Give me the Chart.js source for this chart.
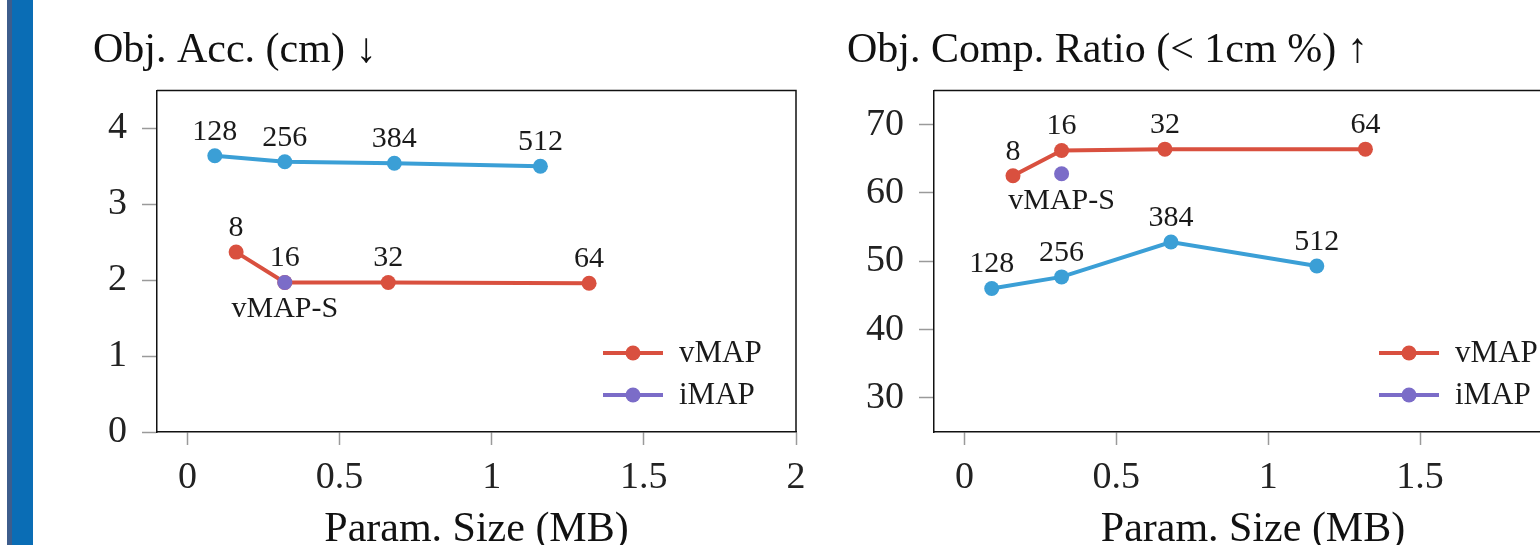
<!DOCTYPE html>
<html>
<head>
<meta charset="utf-8">
<script src="https://cdn.jsdelivr.net/npm/chart.js@4.4.1/dist/chart.umd.min.js"></script>
<style>
  html, body { margin: 0; padding: 0; background: #fff; width: 1540px; height: 545px; overflow: hidden; position: relative; }
  #bar { position: absolute; left: 7px; top: 0; width: 26px; height: 545px; background: #0a6db5; border-left: 5px solid #3d5d8c; box-sizing: border-box; }
  .wrap { position: absolute; top: 0; height: 545px; }
  #w1 { left: 0; width: 820px; }
  #w2 { left: 820px; width: 786px; }
</style>
</head>
<body>
<div id="bar"></div>
<div class="wrap" id="w1"><canvas id="c1" width="820" height="545"></canvas></div>
<div class="wrap" id="w2"><canvas id="c2" width="786" height="545"></canvas></div>
<script>
// ---- data ----
const vmapSizes = [0.16, 0.32, 0.66, 1.32];          // Param. Size (MB)
const vmapLabels = ['8', '16', '32', '64'];
const hiddenSizes = [0.09, 0.32, 0.68, 1.16];
const hiddenLabels = ['128', '256', '384', '512'];
const imapSize = [0.32];
const imapLabels = ['vMAP-S'];

const accVmap = [2.37, 1.97, 1.97, 1.96];
const accHidden = [3.64, 3.56, 3.54, 3.50];
const accImap = [1.97];

const compVmap = [62.5, 66.2, 66.4, 66.4];
const compHidden = [46.0, 47.7, 52.8, 49.3];
const compImap = [62.8];

const sizeTicks = [0, 0.5, 1, 1.5, 2];
const sizeTickLabels = ['0', '0.5', '1', '1.5', '2'];
const accTicks = [0, 1, 2, 3, 4];
const compTicks = [30, 40, 50, 60, 70];

const titles = ['Obj. Acc. (cm) \u2193', 'Obj. Comp. Ratio (< 1cm %) \u2191'];
const xTitle = 'Param. Size (MB)';

// ---- style ----
const FONT = '"Liberation Serif", "DejaVu Serif", serif';
const RED = '#d9503f', BLUE = '#3b9fd6', PURPLE = '#7b6cc8';

function pts(xs, ys) { return xs.map((x, i) => ({ x: x, y: ys[i] })); }

const boxPlugin = {
  id: 'box',
  afterDraw(chart) {
    const a = chart.chartArea, ctx = chart.ctx;
    ctx.save();
    ctx.strokeStyle = '#111';
    ctx.lineWidth = 1.5;
    ctx.beginPath();
    ctx.moveTo(a.left, a.top);
    ctx.lineTo(a.right, a.top);
    ctx.lineTo(a.right, a.bottom);
    ctx.stroke();
    ctx.restore();
  }
};

const labelPlugin = {
  id: 'ptlabels',
  afterDatasetsDraw(chart) {
    const ctx = chart.ctx;
    ctx.save();
    ctx.font = '30px ' + FONT;
    ctx.fillStyle = '#1a1a1a';
    ctx.textAlign = 'center';
    ctx.textBaseline = 'middle';
    chart.data.datasets.forEach((ds, di) => {
      const meta = chart.getDatasetMeta(di);
      (ds.pointLabels || []).forEach((t, i) => {
        const el = meta.data[i];
        if (!el) return;
        const dy = ds.labelBelow ? 27 : -24;
        ctx.fillText(t, el.x, el.y + dy);
      });
    });
    ctx.restore();
  }
};

const legendPlugin = {
  id: 'inlegend',
  afterDraw(chart) {
    const a = chart.chartArea, ctx = chart.ctx;
    const items = chart.data.datasets.filter(d => d.inLegend).sort((p, q) => p.legendRank - q.legendRank);
    ctx.save();
    items.forEach((d, k) => {
      const y = a.bottom - 79 + k * 42;
      const x0 = a.right - 193;
      ctx.strokeStyle = d.borderColor;
      ctx.lineWidth = 4;
      ctx.beginPath();
      ctx.moveTo(x0, y);
      ctx.lineTo(x0 + 60, y);
      ctx.stroke();
      ctx.fillStyle = d.borderColor;
      ctx.beginPath();
      ctx.arc(x0 + 30, y, 7.5, 0, Math.PI * 2);
      ctx.fill();
      ctx.fillStyle = '#1a1a1a';
      ctx.font = '31px ' + FONT;
      ctx.textAlign = 'left';
      ctx.textBaseline = 'middle';
      ctx.fillText(d.label, x0 + 76, y + 1);
    });
    ctx.restore();
  }
};

function makeChart(id, title, vm, hid, im, yTicks, yMin, yMax, padLeft, padRight, yWidth) {
  const line = (label, data, color, extra) => Object.assign({
    label: label, data: data, borderColor: color, backgroundColor: color,
    borderWidth: 4, pointRadius: 7.5, pointHoverRadius: 7.5, pointBorderWidth: 0,
    tension: 0, fill: false
  }, extra);
  return new Chart(document.getElementById(id), {
    type: 'line',
    data: {
      datasets: [
        line('iMAP', pts(imapSize, im), PURPLE, { pointLabels: imapLabels, labelBelow: true, inLegend: true, legendRank: 2, showLine: false }),
        line('vMAP', pts(vmapSizes, vm), RED, { pointLabels: vmapLabels, inLegend: true, legendRank: 1 }),
        line('Hidden size', pts(hiddenSizes, hid), BLUE, { pointLabels: hiddenLabels })
      ]
    },
    options: {
      responsive: false,
      animation: false,
      devicePixelRatio: 1,
      layout: { padding: { left: padLeft, right: padRight, top: 0, bottom: 0 } },
      plugins: {
        legend: { display: false },
        tooltip: { enabled: false },
        title: {
          display: true, text: title, align: 'start', color: '#111',
          font: { family: FONT, size: 42, weight: 'normal', lineHeight: 1.2 },
          padding: { top: 26, bottom: 14 }
        }
      },
      scales: {
        x: {
          type: 'linear', min: -0.1, max: 2,
          afterBuildTicks: s => { s.ticks = sizeTicks.map(v => ({ value: v })); },
          afterFit: s => { s.height = 113; s.paddingLeft = 0; s.paddingRight = 0; },
          grid: { drawOnChartArea: false, drawTicks: true, tickLength: 13, tickColor: '#9a9a9a', tickWidth: 1.5 },
          border: { display: true, color: '#111', width: 1.5 },
          ticks: {
            color: '#222', font: { family: FONT, size: 38, lineHeight: 1.2 }, padding: 10, maxRotation: 0, autoSkip: false,
            callback: (v) => { const i = sizeTicks.indexOf(v); return i >= 0 ? sizeTickLabels[i] : String(v); }
          },
          title: { display: true, text: xTitle, color: '#111', font: { family: FONT, size: 42, lineHeight: 1 }, padding: { top: 0, bottom: -6 } }
        },
        y: {
          type: 'linear', min: yMin, max: yMax,
          afterBuildTicks: s => { s.ticks = yTicks.map(v => ({ value: v })); },
          afterFit: s => { s.width = yWidth; s.paddingTop = 0; s.paddingBottom = 0; },
          grid: { drawOnChartArea: false, drawTicks: true, tickLength: 15, tickColor: '#9a9a9a', tickWidth: 1.5 },
          border: { display: true, color: '#111', width: 1.5 },
          ticks: { color: '#222', font: { family: FONT, size: 38 }, padding: 15, autoSkip: false }
        }
      }
    },
    plugins: [boxPlugin, labelPlugin, legendPlugin]
  });
}

makeChart('c1', titles[0], accVmap, accHidden, accImap, accTicks, 0, 4.5, 93, 24, 64);
makeChart('c2', titles[1], compVmap, compHidden, compImap, compTicks, 25, 75, 27, 34, 87);
</script>
</body>
</html>
